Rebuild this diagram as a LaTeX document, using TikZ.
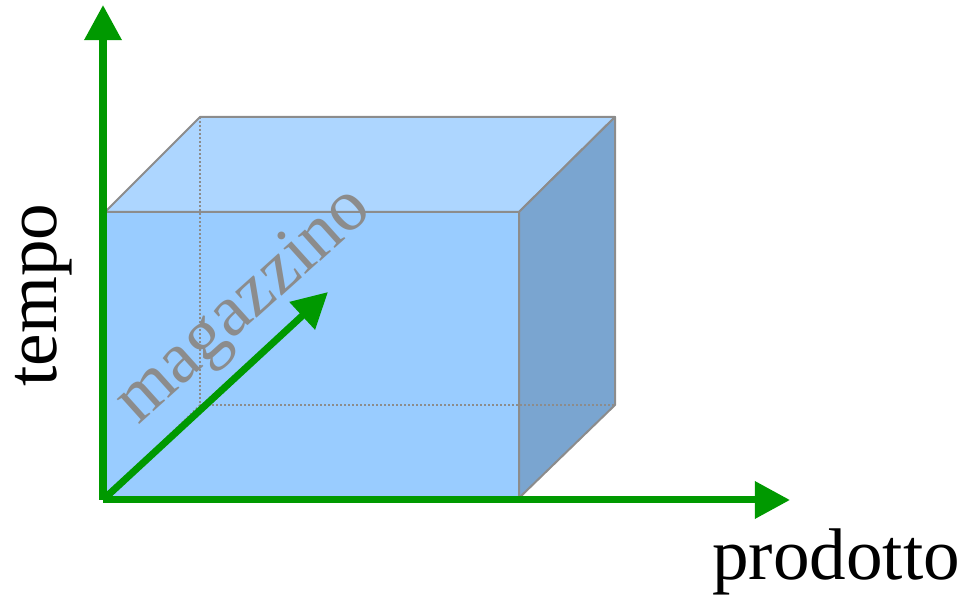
\documentclass[tikz,border=0pt]{standalone}
\usepackage{fontspec}
\setmainfont{Liberation Serif}
\usepackage{tikz}
\usetikzlibrary{arrows.meta,positioning}
\definecolor{axisgreen}{HTML}{009900}
\definecolor{topface}{HTML}{ADD6FF}
\definecolor{frontface}{HTML}{99CCFF}
\definecolor{sideface}{HTML}{7AA5D0}
\definecolor{edgegray}{HTML}{8C8C8C}
\tikzset{
    face/.style={draw=edgegray, line width=0.05cm, line join=round},
    hidden/.style={draw=edgegray, line width=0.04cm, dash pattern=on 0.04cm off 0.06cm},
    axis/.style={-{Triangle[length=0.88cm, width=0.9cm]}, line width=0.175cm, axisgreen},
    axis_label/.style={font=\fontsize{52}{60}\selectfont, inner sep=0pt}
}

\begin{document}
\begin{tikzpicture}[x=0.025cm, y=-0.025cm]
  \useasboundingbox (0,0) rectangle (969,596);

  % Cube corners
  \coordinate (fbl) at (105,498);
  \coordinate (fbr) at (519,498);
  \coordinate (ftr) at (519,212);
  \coordinate (ftl) at (105,212);
  \coordinate (btl) at (200,117);
  \coordinate (btr) at (615,117);
  \coordinate (bbr) at (615,405);
  \coordinate (bbl) at (200,405);

  % Faces
  \filldraw[face, fill=frontface] (fbl) -- (fbr) -- (ftr) -- (ftl) -- cycle;
  \filldraw[face, fill=topface] (ftl) -- (btl) -- (btr) -- (ftr) -- cycle;
  \filldraw[face, fill=sideface] (fbr) -- (ftr) -- (btr) -- (bbr) -- cycle;

  % Hidden edges
  \draw[hidden] (btl) -- (bbl) -- (bbr);
  \draw[hidden] (bbl) -- (fbl);

  % Axes
  \coordinate (origin) at (103,500);
  \coordinate (t_tip) at (103,5);
  \coordinate (p_tip) at (790,500);
  \coordinate (m_tip) at (328,292);
  \draw[axis] (origin) -- (t_tip);
  \draw[axis] (origin) -- (p_tip);
  \draw[axis] (fbl) -- (m_tip);

  % Labels
  \node[axis_label, rotate=90] (tempo) at (44,295) {tempo};
  \node[axis_label] (prodotto) at (836,562) {prodotto};
  \node[axis_label, text=edgegray, rotate=42] (magazzino) at (245,307) {magazzino};

\end{tikzpicture}
\end{document}
